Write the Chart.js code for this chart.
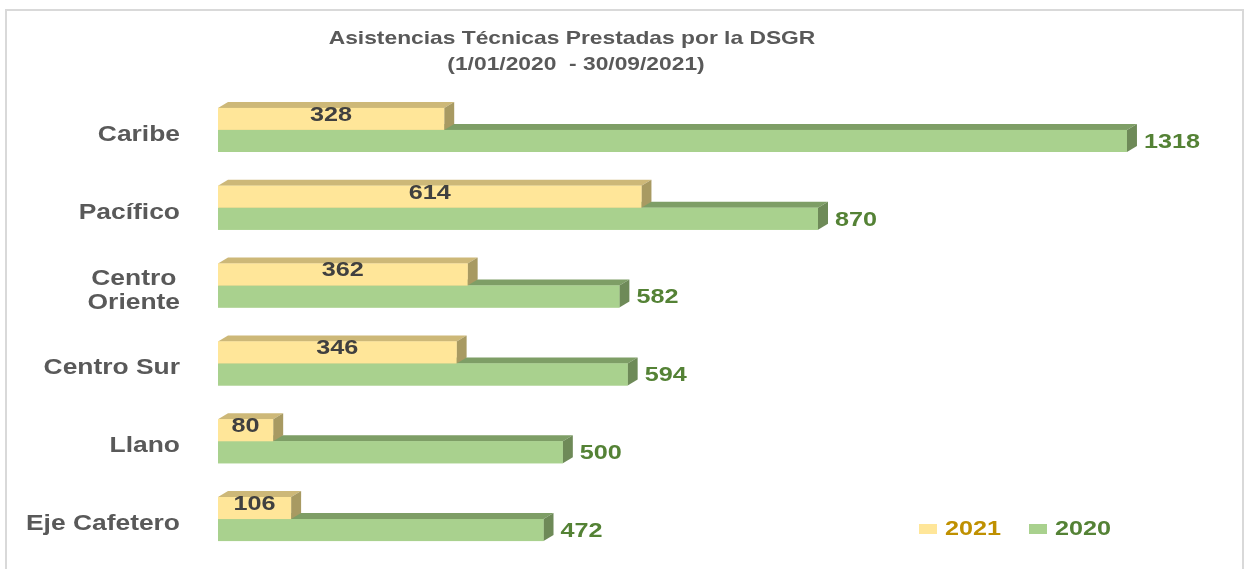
<!DOCTYPE html>
<html>
<head>
<meta charset="utf-8">
<script src="https://cdn.jsdelivr.net/npm/chart.js@4"></script>
<style>
    body { margin: 0; background: #fff; }
    canvas { display: block; }
</style>
</head>
<body>
<canvas id="chart" width="1245" height="569"></canvas>
<script>
const titleLines = ['Asistencias Técnicas Prestadas por la DSGR', '(1/01/2020  - 30/09/2021)'];
const categories = ['Caribe', 'Pacífico', ['Centro', 'Oriente'], 'Centro Sur', 'Llano', 'Eje Cafetero'];
const seriesNames = ['2021', '2020'];
const values2021 = [328, 614, 362, 346, 80, 106];
const values2020 = [1318, 870, 582, 594, 500, 472];

const FONT = '"Liberation Sans", Arial, sans-serif';
const SX = 1.2; // the reference text is a bit wide, stretch it horizontally

// front / top / side colours for each series
const faces = [
    { front: '#FFE699', top: '#CDB878', side: '#A89A62', label: '#404040', legend: '#BF9000' },
    { front: '#A9D18E', top: '#7E9E66', side: '#6E8A58', label: '#548235', legend: '#548235' }
];
const depth = { dx: 10, dy: 6 };

function wideText(ctx, txt, x, y, align, font, color) {
    ctx.save();
    ctx.font = font;
    ctx.fillStyle = color;
    ctx.textBaseline = 'middle';
    ctx.textAlign = align;
    ctx.translate(x, y);
    ctx.scale(SX, 1);
    ctx.fillText(txt, 0, 0);
    ctx.restore();
}

function poly(ctx, pts, color) {
    ctx.beginPath();
    ctx.moveTo(pts[0][0], pts[0][1]);
    pts.slice(1).forEach(p => ctx.lineTo(p[0], p[1]));
    ctx.closePath();
    ctx.fillStyle = color;
    ctx.fill();
}

const bar3d = {
    id: 'bar3d',
    afterDatasetsDraw(chart) {
        const ctx = chart.ctx;
        const { dx, dy } = depth;

        // back series first so the front bar covers its top face
        [1, 0].forEach(i => {
            const meta = chart.getDatasetMeta(i);
            meta.data.forEach(el => {
                const { x, y, base, height } = el.getProps(['x', 'y', 'base', 'height'], true);
                const top = y - height / 2, bottom = y + height / 2;
                poly(ctx, [[base, top], [base + dx, top - dy], [x + dx, top - dy], [x, top]], faces[i].top);
                poly(ctx, [[x, top], [x + dx, top - dy], [x + dx, bottom - dy], [x, bottom]], faces[i].side);
                ctx.fillStyle = faces[i].front;
                ctx.fillRect(base, top, x - base, height);
            });
        });

        // value labels
        const valFont = 'bold 21px ' + FONT;
        chart.getDatasetMeta(0).data.forEach((el, j) => {
            const { x, y, base } = el.getProps(['x', 'y', 'base'], true);
            wideText(ctx, String(values2021[j]), (base + x) / 2, y - 4, 'center', valFont, faces[0].label);
        });
        chart.getDatasetMeta(1).data.forEach((el, j) => {
            const { x, y } = el.getProps(['x', 'y'], true);
            wideText(ctx, String(values2020[j]), x + dx + 7, y + 1, 'left', valFont, faces[1].label);
        });
    },
    afterDraw(chart) {
        const ctx = chart.ctx;

        // frame
        ctx.save();
        ctx.strokeStyle = '#D9D9D9';
        ctx.lineWidth = 2;
        ctx.strokeRect(6, 10, 1237, 600);
        ctx.restore();

        // title
        const tFont = 'bold 19px ' + FONT;
        wideText(ctx, titleLines[0], 572, 39, 'center', tFont, '#595959');
        wideText(ctx, titleLines[1], 576, 65, 'center', tFont, '#595959');

        // category labels
        const yScale = chart.scales.y;
        const cFont = 'bold 22px ' + FONT;
        ctx.font = cFont;
        categories.forEach((c, i) => {
            const lines = Array.isArray(c) ? c : [c];
            const w = Math.max(...lines.map(l => ctx.measureText(l).width)) * SX;
            const cx = 180 - w / 2;
            const cy = yScale.getPixelForTick(i) + 5;
            lines.forEach((l, k) => {
                wideText(ctx, l, cx, cy + (k - (lines.length - 1) / 2) * 24, 'center', cFont, '#595959');
            });
        });

        // legend
        const lgFont = 'bold 21px ' + FONT;
        const lgX = [919, 1029];
        chart.data.datasets.forEach((ds, i) => {
            ctx.fillStyle = ds.backgroundColor;
            ctx.fillRect(lgX[i], 524, 18, 10);
            wideText(ctx, ds.label, lgX[i] + 26, 529, 'left', lgFont, faces[i].legend);
        });
    }
};

new Chart(document.getElementById('chart'), {
    type: 'bar',
    data: {
        labels: categories,
        datasets: [
            { label: seriesNames[0], data: values2021, backgroundColor: faces[0].front, borderWidth: 0 },
            { label: seriesNames[1], data: values2020, backgroundColor: faces[1].front, borderWidth: 0 }
        ]
    },
    options: {
        responsive: false,
        animation: false,
        devicePixelRatio: 1,
        indexAxis: 'y',
        datasets: {
            bar: { categoryPercentage: 0.5656, barPercentage: 1 }
        },
        layout: { padding: { top: 91, bottom: 11, left: 0, right: 27 } },
        scales: {
            x: { display: false, min: 0, max: 1450 },
            y: {
                afterFit: s => { s.width = 218; },
                grid: { display: false },
                border: { display: false },
                ticks: { display: false }
            }
        },
        plugins: {
            legend: { display: false },
            title: { display: false },
            tooltip: { enabled: false }
        }
    },
    plugins: [bar3d]
});
</script>
</body>
</html>
